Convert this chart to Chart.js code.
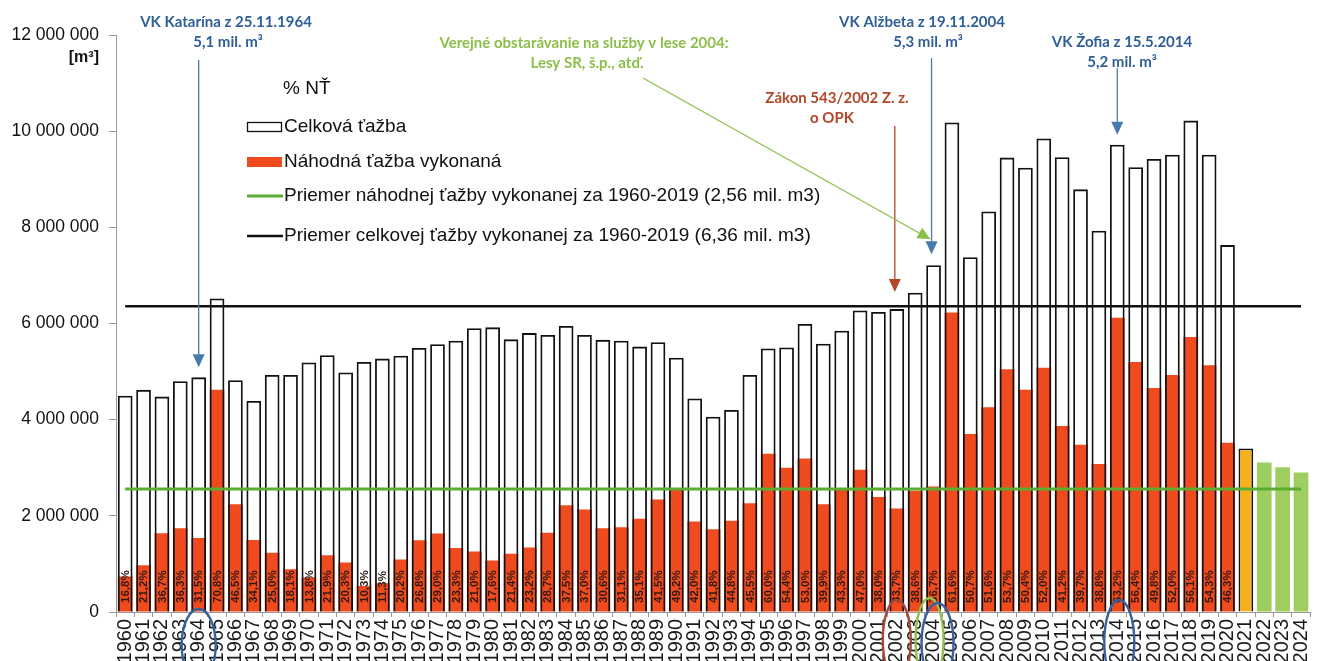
<!DOCTYPE html>
<html>
<head>
<meta charset="utf-8">
<script src="https://cdn.jsdelivr.net/npm/chart.js@4.4.1/dist/chart.umd.min.js"></script>
<style>
  html, body { margin: 0; padding: 0; background: #fff; overflow: hidden; }
  #wrap { width: 1327px; height: 680px; }
</style>
</head>
<body>
<div id="wrap"><canvas id="myChart"></canvas></div>
<script>
// roky 1960 - 2024
var years = [];
for (var r = 1960; r <= 2024; r++) years.push(String(r));

// celkova tazba [mil. m3]
var totalCut = [
    4.50, 4.62, 4.48, 4.80, 4.88, 6.52, 4.82, 4.39, 4.93, 4.93,
    5.19, 5.34, 4.98, 5.20, 5.27, 5.33, 5.49, 5.57, 5.64, 5.90,
    5.92, 5.67, 5.80, 5.76, 5.95, 5.76, 5.66, 5.64, 5.52, 5.61,
    5.29, 4.44, 4.06, 4.20, 4.93, 5.48, 5.50, 5.99, 5.58, 5.85,
    6.27, 6.24, 6.30, 6.64, 7.21, 10.18, 7.38, 8.33, 9.45, 9.24,
    9.85, 9.46, 8.79, 7.93, 9.72, 9.25, 9.42, 9.51, 10.22, 9.51,
    7.63, 3.40, 3.11, 3.01, 2.90
];

// nahodna tazba vykonana [mil. m3]
var randomCut = [
    0.74, 0.97, 1.64, 1.74, 1.54, 4.62, 2.24, 1.50, 1.23, 0.89,
    0.72, 1.18, 1.03, 0.54, 0.60, 1.09, 1.49, 1.63, 1.33, 1.26,
    1.07, 1.21, 1.34, 1.65, 2.22, 2.13, 1.74, 1.76, 1.94, 2.34,
    2.58, 1.88, 1.72, 1.90, 2.26, 3.29, 3.00, 3.19, 2.24, 2.55,
    2.96, 2.39, 2.15, 2.52, 2.61, 6.23, 3.70, 4.26, 5.05, 4.62,
    5.08, 3.87, 3.48, 3.08, 6.12, 5.20, 4.66, 4.93, 5.72, 5.13,
    3.52, null, null, null, null
];

// % NT
var pctLabels = [
    "16,8", "21,2", "36,7", "36,3", "31,5", "70,8", "46,5", "34,1", "25,0", "18,1",
    "13,8", "21,9", "20,3", "10,3", "11,3", "20,2", "26,8", "29,0", "23,3", "21,0",
    "17,6", "21,4", "23,2", "28,7", "37,5", "37,0", "30,6", "31,1", "35,1", "41,5",
    "49,2", "42,0", "41,8", "44,8", "45,5", "60,0", "54,4", "53,0", "39,9", "43,3",
    "47,0", "38,0", "33,7", "38,6", "36,7", "61,6", "50,7", "51,6", "53,7", "50,4",
    "52,0", "41,2", "39,7", "38,8", "63,2", "56,4", "49,8", "52,0", "56,1", "54,3",
    "46,3"
];

var avgRandom = 2.56;
var avgTotal = 6.36;
var yTicks = [0, 2, 4, 6, 8, 10, 12];

var RED = "#ef4b1f";
var ORANGE = "#f5b21c";
var LGREEN = "#9fce60";
var LINEGREEN = "#5aad33";
var BLUE = "#2f5f98";
var BLUELINE = "#4a79ad";
var DARKRED = "#b3472a";
var TXTGREEN = "#8cbf4a";

var totalBg = years.map(function (y) {
    if (y === "2021") return ORANGE;
    if (y > "2021") return LGREEN;
    return "rgba(255,255,255,0)";
});
var totalBorder = years.map(function (y) { return y > "2021" ? LGREEN : "#111"; });
var totalBorderW = years.map(function (y) { return y > "2021" ? 0 : 1.8; });

function fmt(v) {
    return String(Math.round(v * 1000000)).replace(/\B(?=(\d{3})+(?!\d))/g, " ");
}

function arrow(ctx, x1, y1, x2, y2, color) {
    var a = Math.atan2(y2 - y1, x2 - x1);
    var len = 13, w = 6;
    ctx.strokeStyle = color;
    ctx.lineWidth = 1.3;
    ctx.beginPath();
    ctx.moveTo(x1, y1);
    ctx.lineTo(x2 - Math.cos(a) * len, y2 - Math.sin(a) * len);
    ctx.stroke();
    ctx.fillStyle = color;
    ctx.beginPath();
    ctx.moveTo(x2, y2);
    ctx.lineTo(x2 - Math.cos(a) * len - Math.sin(a) * w, y2 - Math.sin(a) * len + Math.cos(a) * w);
    ctx.lineTo(x2 - Math.cos(a) * len + Math.sin(a) * w, y2 - Math.sin(a) * len - Math.cos(a) * w);
    ctx.closePath();
    ctx.fill();
}

function ellipse(ctx, x, y, rx, ry, color) {
    ctx.strokeStyle = color;
    ctx.lineWidth = 2.4;
    ctx.beginPath();
    ctx.ellipse(x, y, rx, ry, 0, 0, Math.PI * 2);
    ctx.stroke();
}

var extras = {
    id: "extras",
    afterDatasetsDraw: function (chart) {
        var ctx = chart.ctx;
        var xs = chart.scales.x, ys = chart.scales.y;
        var base = ys.getPixelForValue(0);
        var xOf = function (y) { return xs.getPixelForValue(years.indexOf(y)); };
        var topOf = function (y) { return ys.getPixelForValue(totalCut[years.indexOf(y)]); };

        ctx.save();
        // percent labels
        ctx.font = 'bold 11.5px "Liberation Sans", Arial, sans-serif';
        ctx.fillStyle = "#2e1a12";
        ctx.textAlign = "left";
        ctx.textBaseline = "middle";
        pctLabels.forEach(function (p, i) {
            var x = xs.getPixelForValue(i);
            ctx.save();
            ctx.translate(x + 0.5, base - 9);
            ctx.rotate(-Math.PI / 2);
            ctx.fillText(p + "%", 0, 0);
            ctx.restore();
        });

        // unit
        ctx.fillStyle = "#111";
        ctx.font = 'bold 16px "Liberation Sans", Arial, sans-serif';
        ctx.textAlign = "right";
        ctx.fillText("[m\u00b3]", 99, 58);

        // legend
        ctx.font = '19px "Liberation Sans", Arial, sans-serif';
        ctx.textAlign = "left";
        ctx.fillStyle = "#111";
        ctx.fillText("% N\u0164", 283, 89);
        ctx.lineWidth = 1.3;
        ctx.strokeStyle = "#111";
        ctx.strokeRect(247.5, 122.5, 34, 9);
        ctx.fillText("Celkov\u00e1 \u0165a\u017eba", 284, 127);
        ctx.fillStyle = RED;
        ctx.fillRect(247, 157, 35, 10);
        ctx.fillStyle = "#111";
        ctx.fillText("N\u00e1hodn\u00e1 \u0165a\u017eba vykonan\u00e1", 284, 162);
        ctx.strokeStyle = LINEGREEN;
        ctx.lineWidth = 3;
        ctx.beginPath(); ctx.moveTo(247, 196); ctx.lineTo(283, 196); ctx.stroke();
        ctx.fillText("Priemer n\u00e1hodnej \u0165a\u017eby vykonanej za 1960-2019 (2,56 mil. m3)", 284, 196);
        ctx.strokeStyle = "#111";
        ctx.lineWidth = 2.5;
        ctx.beginPath(); ctx.moveTo(247, 236); ctx.lineTo(283, 236); ctx.stroke();
        ctx.fillText("Priemer celkovej \u0165a\u017eby vykonanej za 1960-2019 (6,36 mil. m3)", 284, 236);

        // annotations
        ctx.font = 'bold 15px Lato, "Open Sans", sans-serif';
        ctx.textAlign = "center";
        ctx.fillStyle = BLUE;
        ctx.fillText("VK Katar\u00edna z 25.11.1964", 226, 22);
        ctx.fillText("5,1 mil. m\u00b3", 228, 42);
        ctx.fillText("VK Al\u017ebeta z 19.11.2004", 922, 22);
        ctx.fillText("5,3 mil. m\u00b3", 928, 42);
        ctx.fillText("VK \u017dofia z 15.5.2014", 1122, 42);
        ctx.fillText("5,2 mil. m\u00b3", 1122, 62);
        ctx.fillStyle = TXTGREEN;
        ctx.fillText("Verejn\u00e9 obstar\u00e1vanie na slu\u017eby v lese 2004:", 584, 43);
        ctx.fillText("Lesy SR, \u0161.p., at\u010f.", 587, 63);
        ctx.fillStyle = DARKRED;
        ctx.fillText("Z\u00e1kon 543/2002 Z. z.", 837, 98);
        ctx.fillText("o OPK", 832, 118);

        arrow(ctx, xOf("1964"), 60, xOf("1964"), topOf("1964") - 10, BLUELINE);
        arrow(ctx, xOf("2004") - 2, 58, xOf("2004") - 2, topOf("2004") - 11, BLUELINE);
        arrow(ctx, xOf("2014"), 68, xOf("2014"), topOf("2014") - 10, BLUELINE);
        arrow(ctx, xOf("2002") - 2, 126, xOf("2002") - 2, topOf("2002") - 17, DARKRED);
        arrow(ctx, 643, 78, xOf("2004") - 3, topOf("2004") - 26, "#8cbf4a");

        // circles around years
        ellipse(ctx, xOf("1964"), 645, 17, 36, "#3a5f9e");
        ellipse(ctx, xOf("2002"), 640, 14, 40, "#a3483a");
        ellipse(ctx, xOf("2004") - 4, 640, 14, 42, "#8fc04f");
        ellipse(ctx, xOf("2004") + 4, 643, 16, 40, "#3a5f9e");
        ellipse(ctx, xOf("2014") + 2, 642, 15, 42, "#3a5f9e");
        ctx.restore();
    }
};

var ctx = document.getElementById("myChart");
var myChart = new Chart(ctx, {
    type: "bar",
    data: {
        labels: years,
        datasets: [
            {
                type: "line",
                label: "Priemer celkovej",
                data: [{ x: years[0], y: avgTotal }, { x: years[years.length - 1], y: avgTotal }],
                borderColor: "#111",
                borderWidth: 2.5,
                pointRadius: 0,
                order: 0
            },
            {
                type: "line",
                label: "Priemer nahodnej",
                data: [{ x: years[0], y: avgRandom }, { x: years[years.length - 1], y: avgRandom }],
                borderColor: LINEGREEN,
                borderWidth: 3,
                pointRadius: 0,
                order: 1
            },
            {
                label: "Celková ťažba",
                data: totalCut,
                backgroundColor: totalBg,
                borderColor: totalBorder,
                borderWidth: totalBorderW,
                barPercentage: 0.8,
                categoryPercentage: 1,
                grouped: false,
                order: 2
            },
            {
                label: "Náhodná ťažba vykonaná",
                data: randomCut,
                backgroundColor: RED,
                borderWidth: 0,
                barPercentage: 0.8,
                categoryPercentage: 1,
                grouped: false,
                order: 3
            }
        ]
    },
    options: {
        responsive: true,
        maintainAspectRatio: false,
        animation: false,
        layout: { padding: { top: 35, right: 0, left: 0, bottom: 0 } },
        plugins: {
            legend: { display: false },
            tooltip: { enabled: false }
        },
        scales: {
            x: {
                offset: true,
                grid: { drawOnChartArea: false, offset: true, tickLength: 5, color: "#999" },
                border: { color: "#999", width: 1 },
                ticks: {
                    autoSkip: false,
                    maxRotation: 90,
                    minRotation: 90,
                    padding: 2,
                    color: "#1a1a1a",
                    font: { family: '"Liberation Sans", Arial, sans-serif', size: 20 }
                },
                afterFit: function (scale) { scale.height = 68; }
            },
            y: {
                min: 0,
                max: 12,
                afterBuildTicks: function (scale) {
                    scale.ticks = yTicks.map(function (v) { return { value: v }; });
                },
                grid: { drawOnChartArea: false, tickLength: 7, color: "#999" },
                border: { color: "#999", width: 1 },
                ticks: {
                    padding: 10,
                    color: "#111",
                    font: { family: '"Liberation Sans", Arial, sans-serif', size: 17.5 },
                    callback: function (v) { return fmt(v); }
                },
                afterFit: function (scale) { scale.width = 116; }
            }
        }
    },
    plugins: [extras]
});
</script>
</body>
</html>
